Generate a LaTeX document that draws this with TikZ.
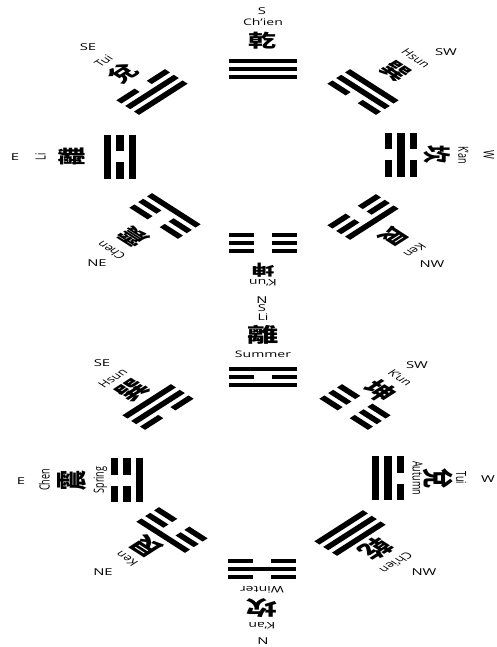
\documentclass[tikz,border=0pt]{standalone}
\usepackage{fontspec}
\usepackage{tikz}
\setsansfont{Open Sans}
\newfontfamily\hanzifont{Noto Sans CJK TC}

% one line of a trigram, at height #1 of its own frame
\newcommand{\yang}[1]{\fill (-22,#1-2.3) -- (22,#1-2.3) -- (22,#1+2.3) -- (-22,#1+2.3) -- cycle;}
\newcommand{\yin}[1]{\fill (-22,#1-2.3) -- (-5.5,#1-2.3) -- (-5.5,#1+2.3) -- (-22,#1+2.3) -- cycle;
  \fill (5.5,#1-2.3) -- (22,#1-2.3) -- (22,#1+2.3) -- (5.5,#1+2.3) -- cycle;}
% inner, middle, outer line
\newcommand{\gua}[3]{#1{8}#2{0}#3{-8}}

\begin{document}
\begin{tikzpicture}[x=1pt,y=-1pt,
  item/.style={xscale=1.56,rotate=#1,transform shape},
  hz/.style={font=\hanzifont\bfseries\fontsize{18}{18}\selectfont,inner sep=0pt},
  hzbig/.style={font=\hanzifont\bfseries\fontsize{20}{20}\selectfont,inner sep=0pt},
  rm/.style={font=\sffamily\fontsize{9}{9}\selectfont,inner sep=0pt},
  dir/.style={font=\sffamily\fontsize{9.5}{10}\selectfont,inner sep=0pt,xscale=1.56}]
\fill[white] (0,0) rectangle (497,647);
\useasboundingbox (0,0) rectangle (497,647);

% upper ring
\begin{scope}[shift={(263,69)},item=0]
\gua\yang\yang\yang
\node[hz] (qianU) at (0,-28) {乾};
\node[rm] (qianUl) at (0,-47) {Ch'ien};
\end{scope}
\begin{scope}[shift={(152,92)},item=45]
\gua\yang\yang\yin
\node[hz] (duiU) at (0,-26) {兌};
\node[rm] (duiUl) at (0,-44) {Tui};
\end{scope}
\begin{scope}[shift={(120,157)},item=90]
\gua\yang\yin\yang
\node[hz] (liU) at (0,-31) {離};
\node[rm] (liUl) at (0,-51) {Li};
\end{scope}
\begin{scope}[shift={(165,216)},item=135]
\gua\yang\yin\yin
\node[hz] (zhenU) at (0,-29) {震};
\node[rm] (zhenUl) at (0,-49) {Chen};
\end{scope}
\begin{scope}[shift={(263,243)},item=180]
\gua\yin\yin\yin
\node[hz,font=\hanzifont\bfseries\fontsize{15}{15}\selectfont] (kunU) at (0,-27) {坤};
\node[rm] (kunUl) at (0,-40) {K'un};
\end{scope}
\begin{scope}[shift={(363,217)},item=-135]
\gua\yin\yin\yang
\node[hz] (genU) at (0,-28) {艮};
\node[rm] (genUl) at (0,-47) {Ken};
\end{scope}
\begin{scope}[shift={(401,155)},item=-90]
\gua\yin\yang\yin
\node[hz] (kanU) at (0,-23) {坎};
\node[rm] (kanUl) at (0,-40) {K'an};
\end{scope}
\begin{scope}[shift={(363,92)},item=-45]
\gua\yin\yang\yang
\node[hz] (xunU) at (0,-30) {巽};
\node[rm] (xunUl) at (0,-48) {Hsun};
\end{scope}

\node[dir] (sU) at (262,11) {S};
\node[dir] (seU) at (88,47) {SE};
\node[dir] (swU) at (446,52) {SW};
\node[dir] (eU) at (15,157) {E};
\node[dir,rotate=-90] (wU) at (489,155) {W};
\node[dir] (neU) at (97,263) {NE};
\node[dir] (nwU) at (432,264) {NW};
\node[dir] (nU) at (262,300) {N};

% lower ring
\begin{scope}[shift={(263,377)},item=0]
\gua\yang\yin\yang
\node[rm] (liLs) at (0,-23) {Summer};
\node[hzbig] (liL) at (0,-42) {離};
\node[rm] (liLl) at (0,-60) {Li};
\end{scope}
\begin{scope}[shift={(158,407)},item=45]
\gua\yin\yang\yang
\node[hzbig] (xunL) at (0,-23) {巽};
\node[rm] (xunLl) at (0,-41) {Hsun};
\end{scope}
\begin{scope}[shift={(127,480)},item=90]
\gua\yang\yin\yin
\node[rm] (zhenLs) at (0,-17) {Spring};
\node[hzbig] (zhenL) at (0,-35) {震};
\node[rm] (zhenLl) at (0,-53) {Chen};
\end{scope}
\begin{scope}[shift={(172,530)},item=135]
\gua\yin\yin\yang
\node[hzbig] (genL) at (0,-23) {艮};
\node[rm] (genLl) at (0,-41) {Ken};
\end{scope}
\begin{scope}[shift={(262,569)},item=180]
\gua\yin\yang\yin
\node[rm] (kanLs) at (0,-21) {Winter};
\node[hzbig] (kanL) at (0,-39) {坎};
\node[rm] (kanLl) at (0,-57) {K'an};
\end{scope}
\begin{scope}[shift={(350,533)},item=-135]
\gua\yang\yang\yang
\node[hzbig] (qianL) at (0,-23) {乾};
\node[rm] (qianLl) at (0,-42) {Ch'ien};
\end{scope}
\begin{scope}[shift={(388,478)},item=-90]
\gua\yang\yang\yin
\node[rm] (duiLs) at (0,-19) {Autumn};
\node[hzbig] (duiL) at (0,-32) {兌};
\node[rm] (duiLl) at (0,-47) {Tui};
\end{scope}
\begin{scope}[shift={(355,407)},item=-45]
\gua\yin\yin\yin
\node[hzbig] (kunL) at (0,-23) {坤};
\node[rm] (kunLl) at (0,-41) {K'un};
\end{scope}

\node[dir] (sL) at (262,308) {S};
\node[dir] (seL) at (102,363) {SE};
\node[dir] (swL) at (417,365) {SW};
\node[dir] (eL) at (21,481) {E};
\node[dir] (wL) at (488,479) {W};
\node[dir] (neL) at (103,572) {NE};
\node[dir] (nwL) at (424,572) {NW};
\node[dir] (nL) at (263,641) {N};
\end{tikzpicture}
\end{document}
